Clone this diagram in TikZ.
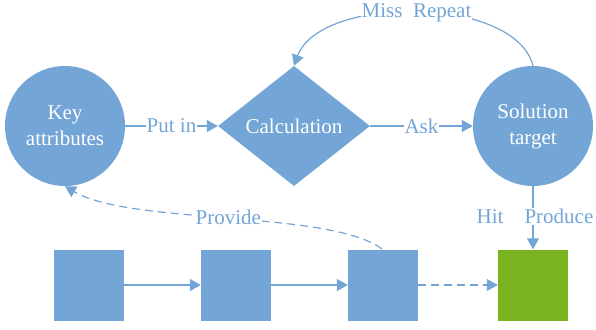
\documentclass[tikz,border=0pt]{standalone}
\usepackage{fontspec}
\setmainfont{Liberation Serif}
\usetikzlibrary{arrows.meta,shapes.geometric}
\definecolor{flowblue}{HTML}{73A5D6}
\definecolor{flowgreen}{HTML}{7AB320}
\tikzset{
  x=1pt, y=-1pt,
  every node/.style={font=\fontsize{21}{26}\selectfont},
  roundnode/.style={circle, fill=flowblue, draw=none, minimum size=120pt, inner sep=0pt, text=white, align=center},
  decide/.style={diamond, fill=flowblue, draw=none, minimum width=152pt, minimum height=120pt, inner sep=0pt, aspect=1.27, text=white},
  blockbox/.style={rectangle, fill=flowblue, draw=none, minimum width=70pt, minimum height=71pt, inner sep=0pt},
  goalbox/.style={blockbox, fill=flowgreen},
  link/.style={draw=flowblue, line width=1.2pt, -{Triangle[length=11pt,width=12pt]}},
  dashlink/.style={link, dash pattern=on 8pt off 5pt},
  tag/.style={text=flowblue, fill=white, inner sep=1pt}
}
\begin{document}
\begin{tikzpicture}
\useasboundingbox (0,0) rectangle (596,329);

% top row: input, calculation, target
\node[roundnode] (key) at (65,126) {Key\\attributes};
\node[decide] (calc) at (294,126) {Calculation};
\node[roundnode] (sol) at (533,126) {Solution\\target};

% bottom row of blocks
\node[blockbox] (b1) at (89,285) {};
\node[blockbox] (b2) at (236,285) {};
\node[blockbox] (b3) at (383,285) {};
\node[goalbox] (g) at (533,285) {};

% top-row connectors
\draw[link] (key) -- node[tag] {Put in} (calc);
\draw[link] (calc) -- node[tag] {Ask} (sol);
\draw[link] (sol.north) .. controls (515,-5) and (320,-5) .. node[tag, pos=0.5] {Miss\enspace Repeat} (calc.north);
\draw[link] (sol.south) -- node[tag, pos=0.48, xshift=2pt] {Hit\quad Produce} (g.north);

% bottom-row connectors
\draw[link] (b1) -- (b2);
\draw[link] (b2) -- (b3);
\draw[dashlink] (b3) -- (g);
\coordinate (b3top) at (382,249);
\draw[dashlink] (b3top) .. controls (330,210) and (130,225) .. node[tag, pos=0.5] {Provide} (key.south);
\end{tikzpicture}
\end{document}
